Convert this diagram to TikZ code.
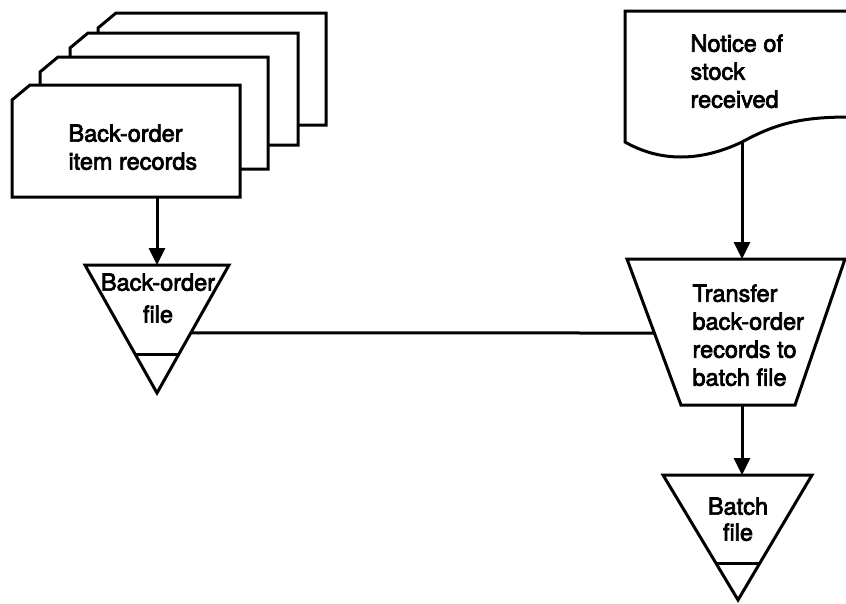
\documentclass[tikz,border=0pt]{standalone}
\usepackage{fontspec}
\setmainfont{TeX Gyre Heros}[FakeBold=3]
\usetikzlibrary{arrows.meta,calc}
\begin{document}
\begin{tikzpicture}[x=1pt,y=-1pt,line width=3pt,
  txt/.style={inner sep=0pt,font=\fontsize{23.5}{28}\selectfont},
  flow/.style={-{Triangle[length=17pt,width=16pt]}}]
\useasboundingbox (0,0) rectangle (846,603);

% 绘制卡片(从后往前)
\foreach \dx/\dy in {86/-72, 58/-52, 28/-28, 0/0}{
  \draw[fill=white] (12+\dx,100+\dy) -- (30+\dx,85+\dy) -- (240+\dx,85+\dy)
    -- (240+\dx,197+\dy) -- (12+\dx,197+\dy) -- cycle;
}
\coordinate (cardbot) at (157,197);
\node[txt,anchor=north west,align=left] (cardtext) at (67,123) {Back-order\\item records};

% 文件(三角形)
\coordinate (bfL) at (85,265);
\coordinate (bfR) at (229,265);
\coordinate (bfA) at (157,393);
\coordinate (bftop) at (157,265);
\draw (bfL) -- (bfR) -- (bfA) -- cycle;
\draw ($(bfL)!0.7!(bfA)$) -- ($(bfR)!0.7!(bfA)$);
\node[txt,anchor=north,align=center,font=\fontsize{23.5}{32}\selectfont] (bftext) at (158,272) {Back-order\\file};

% 单据
\coordinate (docbot) at (742,142);
\draw (849,117) -- (849,11) -- (625,11) -- (625,142)
  .. controls (660,162) and (700,162) .. (docbot)
  .. controls (775,124) and (800,117) .. (849,117);
\node[txt,anchor=north west,align=left] (doctext) at (689,33) {Notice of\\stock\\received};

% 处理(梯形)
\coordinate (trTL) at (627,259);
\coordinate (trTR) at (845,259);
\coordinate (trBR) at (795,405);
\coordinate (trBL) at (681,405);
\coordinate (trtop) at (742,259);
\coordinate (trbot) at (742,405);
\draw (trTL) -- (trTR) -- (trBR) -- (trBL) -- cycle;
\node[txt,anchor=north west,align=left] (trtext) at (691,283) {Transfer\\back-order\\records to\\batch file};

% 批处理文件
\coordinate (btL) at (663,475);
\coordinate (btR) at (812,475);
\coordinate (btA) at (738,600);
\coordinate (bttop) at (742,475);
\draw (btL) -- (btR) -- (btA) -- cycle;
\draw ($(btL)!0.71!(btA)$) -- ($(btR)!0.71!(btA)$);
\node[txt,anchor=north,align=center,font=\fontsize{23.5}{26}\selectfont] (bttext) at (738,496) {Batch\\file};

% 连线
\coordinate (bfside) at ($(bfR)!0.53!(bfA)$);
\coordinate (trside) at ($(trTL)!0.507!(trBL)$);
\draw[flow] (cardbot) -- (bftop);
\draw[flow] (docbot) -- (trtop);
\draw[flow] (trbot) -- (bttop);
\draw (bfside) -- (trside);
\end{tikzpicture}
\end{document}
